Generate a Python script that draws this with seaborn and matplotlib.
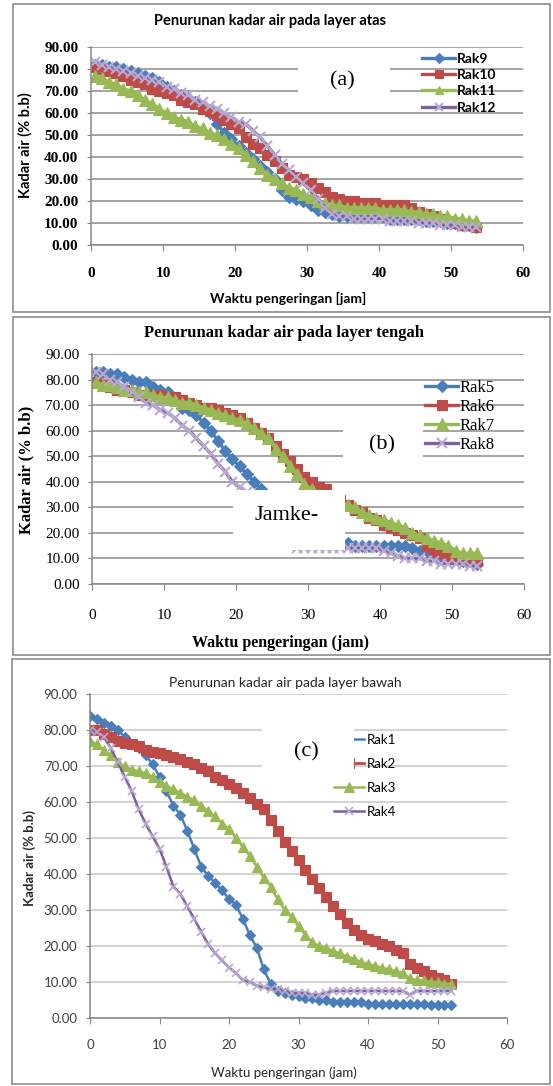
import numpy as np
import pandas as pd
import seaborn as sns
import matplotlib.pyplot as plt
from matplotlib.patches import Rectangle
from matplotlib.ticker import FormatStrFormatter, MultipleLocator

W, H = 553, 1086

# waktu pengeringan (jam)
jam_ab = np.arange(54) + 0.5
jam_c = np.arange(53)

# layer atas
rak9 = [82, 82, 81, 81, 80, 79, 78, 77, 76, 74, 72, 70, 68, 67, 65, 63, 60, 55, 51, 48,
        45, 42, 39, 36, 33, 30, 25, 22, 21, 20, 18, 16, 15, 14, 13, 13, 13, 13, 13, 13,
        13, 12, 12, 12, 12, 12, 11, 11, 11, 10, 10, 9, 9, 8]
rak10 = [81, 80, 79, 78, 77, 75, 74, 73, 71, 70, 69, 68, 66, 65, 64, 62, 61, 59, 57, 55,
         53, 49, 46, 44, 41, 38, 35, 32, 31, 30, 28, 26, 24, 22, 21, 20, 20, 19, 19, 19,
         18, 18, 18, 18, 17, 15, 14, 13, 12, 11, 10, 9, 9, 8]
rak11 = [77, 76, 74, 73, 71, 70, 68, 66, 64, 62, 60, 58, 57, 56, 54, 53, 51, 50, 48, 46,
         44, 41, 38, 35, 32, 30, 28, 26, 25, 23, 22, 20, 19, 18, 18, 17, 17, 17, 17, 17,
         16, 16, 16, 16, 15, 15, 14, 14, 13, 13, 12, 12, 11, 11]
rak12 = [83, 82, 81, 80, 79, 78, 77, 76, 75, 74, 72, 71, 69, 68, 66, 65, 63, 62, 60, 58,
         56, 55, 52, 49, 45, 41, 37, 34, 31, 28, 25, 21, 17, 14, 13, 13, 12, 12, 12, 12,
         12, 11, 11, 11, 11, 10, 10, 10, 9, 9, 9, 8, 8, 8]

# layer tengah
rak5 = [83, 83, 82, 82, 81, 80, 79, 79, 77, 76, 75, 72, 69, 68, 66, 63, 60, 56, 52, 49,
        46, 43, 40, 37, 34, 30, 27, 24, 21, 18, 17, 16, 16, 16, 16, 16, 15, 15, 15, 15,
        15, 15, 15, 15, 14, 13, 13, 12, 11, 10, 10, 9, 9, 8]
rak6 = [79, 78, 77, 76, 76, 75, 74, 74, 74, 74, 73, 73, 72, 71, 70, 69, 69, 68, 67, 66,
        65, 63, 61, 59, 57, 54, 51, 48, 45, 42, 40, 38, 37, 35, 33, 31, 29, 28, 26, 25,
        23, 22, 21, 20, 19, 18, 15, 13, 12, 11, 10, 10, 9, 9]
rak7 = [79, 78, 78, 77, 76, 76, 75, 75, 74, 73, 73, 72, 71, 71, 70, 69, 68, 67, 66, 65,
        64, 63, 61, 59, 57, 53, 50, 46, 43, 39, 37, 35, 34, 33, 32, 31, 30, 28, 27, 26,
        25, 24, 23, 22, 20, 19, 18, 17, 16, 15, 13, 12, 12, 12]
rak8 = [83, 82, 80, 79, 77, 75, 73, 71, 70, 68, 67, 65, 62, 60, 57, 54, 51, 47, 44, 40,
        38, 36, 33, 30, 27, 24, 20, 17, 14, 14, 14, 14, 14, 14, 14, 14, 14, 14, 14, 14,
        13, 12, 11, 10, 10, 10, 9, 9, 8, 8, 8, 8, 7, 7]

# layer bawah
rak1 = [84, 83, 82, 81, 80, 78, 76, 75, 73, 70.5, 67, 63, 59, 56.5, 52, 47, 42, 39.5, 37.5, 35.5,
        33, 31.5, 27.5, 23, 19.5, 13.5, 9.5, 7.5, 7, 6.5, 6, 5.5, 5.5, 5, 5, 4.5, 4.5, 4.5,
        4.5, 4.5, 4, 4, 4, 4, 4, 4, 4, 4, 4, 3.5, 3.5, 3.5, 3.5]
rak2 = [80, 80, 79, 78, 77, 76.5, 76, 75.5, 74.5, 74, 73.5, 73, 72.5, 72, 71, 70.5, 69.5, 68.5,
        67, 66, 65, 64, 62.5, 61, 59.5, 58, 55, 52, 49, 46.5, 44, 41, 38.5, 36, 33.5, 31, 29,
        26.5, 24.5, 23, 22, 21.5, 20.5, 20, 19, 18, 15, 14, 13, 12, 11, 10.5, 9.5]
rak3 = [77, 76, 74.5, 73, 71, 70, 69, 68.5, 68, 67, 65.5, 64.5, 63.5, 62.5, 61.5, 60.5, 59, 57.5,
        56, 54, 52.5, 50, 47.5, 45, 42, 39, 36.5, 33, 30, 28, 25.5, 23, 21, 20, 19.5, 18.5, 18,
        17, 16.5, 15.5, 15, 14.5, 14, 13.5, 13, 12.5, 11, 10.5, 10.5, 10, 10, 9.5, 9.5]
rak4 = [80, 79.5, 78, 75, 71, 67, 63, 58, 54, 50.5, 47, 42, 36.5, 34.5, 31, 27.5, 24, 20.5, 18,
        16, 14, 12.5, 10.5, 10, 9, 8.5, 8, 8, 7.5, 7, 7, 7, 6.5, 6.5, 7, 7.5, 7.5, 7.5, 7.5,
        7.5, 7.5, 7.5, 7.5, 7.5, 7.5, 7.5, 6.5, 7.5, 7.5, 7.5, 7.5, 7.5, 7.5]

BLUE, RED, GREEN, PURPLE, LILAC = '#4A7EBB', '#BE4B48', '#98B954', '#7D60A0', '#B9A9D0'
GRAY = '#868686'


def fx(px):
    return px / W


def fy(py):
    return 1 - py / H


def ax_rect(l, t, r, b):
    return [fx(l), fy(b), (r - l) / W, (b - t) / H]


def draw_series(ax, x, vals, name, col, mk, ms, lw, mec=None, mew=0.8):
    df = pd.DataFrame({'jam': x, 'kadar': vals})
    sns.lineplot(data=df, x='jam', y='kadar', ax=ax, estimator=None, color=col,
                 lw=lw, marker=mk, markersize=ms, markerfacecolor=col,
                 markeredgecolor=mec or col, markeredgewidth=mew, label=name)


def style_axes(ax, tfont, tsize, tweight, tcolor, grid_col, xpad, ypad):
    ax.set_xlim(0, 60)
    ax.set_ylim(0, 90)
    ax.xaxis.set_major_locator(MultipleLocator(10))
    ax.yaxis.set_major_locator(MultipleLocator(10))
    ax.yaxis.set_major_formatter(FormatStrFormatter('%.2f'))
    ax.set_xlabel('')
    ax.set_ylabel('')
    ax.yaxis.grid(True, color=grid_col, lw=1.1)
    ax.set_axisbelow(True)
    for s in ['top', 'right']:
        ax.spines[s].set_visible(False)
    for s in ['left', 'bottom']:
        ax.spines[s].set_color(GRAY)
        ax.spines[s].set_linewidth(1.1)
    ax.tick_params(axis='x', length=4, color=GRAY, pad=xpad)
    ax.tick_params(axis='y', length=3, color=GRAY, pad=ypad)
    for lab in ax.get_xticklabels() + ax.get_yticklabels():
        lab.set_fontfamily(tfont)
        lab.set_fontsize(tsize)
        lab.set_fontweight(tweight)
        lab.set_color(tcolor)
    ax.patch.set_alpha(0)


fig = plt.figure(figsize=(W / 100, H / 100), dpi=100)

# panel borders
for l, t, r, b in [(13, 4, 550, 312), (13, 317, 550, 655), (12, 659, 550, 1084)]:
    fig.add_artist(Rectangle((fx(l), fy(b)), (r - l) / W, (b - t) / H, transform=fig.transFigure,
                             fill=False, edgecolor='#8C8C8C', lw=1.2, zorder=1))

# (a) layer atas
ax1 = fig.add_axes(ax_rect(91, 47, 523, 245))
draw_series(ax1, jam_ab, rak9, 'Rak9', BLUE, 'D', 6.5, 2.4)
draw_series(ax1, jam_ab, rak10, 'Rak10', RED, 's', 7.5, 2.4)
draw_series(ax1, jam_ab, rak11, 'Rak11', GREEN, '^', 8, 2.4)
draw_series(ax1, jam_ab, rak12, 'Rak12', PURPLE, 'x', 7.5, 2.4, mec=LILAC, mew=1.5)
style_axes(ax1, 'Liberation Serif', 11, 'bold', 'black', '#8C8C8C', 12, 6)
ax1.legend(loc='upper left', bbox_to_anchor=(fx(422), fy(53)), bbox_transform=fig.transFigure,
           frameon=False, borderpad=0, borderaxespad=0, handlelength=2.4, handletextpad=0.1,
           labelspacing=0.3, markerscale=0.8,
           prop={'family': 'Lato', 'weight': 'bold', 'size': 10})
fig.text(fx(270), fy(21), 'Penurunan kadar air pada layer atas', ha='center', va='center',
         family='Lato', weight='bold', size=10.5)
fig.text(fx(288), fy(298), 'Waktu pengeringan [jam]', ha='center', va='center',
         family='Lato', weight='bold', size=10)
fig.text(fx(25), fy(145), 'Kadar air (% b.b)', ha='center', va='center', rotation=90,
         family='Lato', weight='bold', size=10.5)

# (b) layer tengah
ax2 = fig.add_axes(ax_rect(92, 354, 524, 584))
draw_series(ax2, jam_ab, rak5, 'Rak5', BLUE, 'D', 6.5, 2.4)
draw_series(ax2, jam_ab, rak6, 'Rak6', RED, 's', 7.5, 2.4)
draw_series(ax2, jam_ab, rak7, 'Rak7', GREEN, '^', 8, 2.4)
draw_series(ax2, jam_ab, rak8, 'Rak8', PURPLE, 'x', 7.5, 2.4, mec=LILAC, mew=1.5)
style_axes(ax2, 'Liberation Serif', 11, 'normal', 'black', '#8C8C8C', 14, 6)
ax2.legend(loc='upper left', bbox_to_anchor=(fx(425), fy(380)), bbox_transform=fig.transFigure,
           frameon=False, borderpad=0, borderaxespad=0, handlelength=2.0, handletextpad=0.1,
           labelspacing=0.18, prop={'family': 'Liberation Serif', 'size': 12})
fig.text(fx(284), fy(333), 'Penurunan kadar air pada layer tengah', ha='center', va='center',
         family='Liberation Serif', weight='bold', size=12)
fig.text(fx(280), fy(643), 'Waktu pengeringan (jam)', ha='center', va='center',
         family='Liberation Serif', weight='bold', size=11.5)
fig.text(fx(26), fy(470), 'Kadar air (% b.b)', ha='center', va='center', rotation=90,
         family='Liberation Serif', weight='bold', size=12)

# (c) layer bawah
ax3 = fig.add_axes(ax_rect(90, 694, 507, 1018))
draw_series(ax3, jam_c, rak1, 'Rak1', BLUE, 'D', 5.5, 1.8)
draw_series(ax3, jam_c, rak2, 'Rak2', RED, 's', 7.5, 2)
draw_series(ax3, jam_c, rak3, 'Rak3', GREEN, '^', 6.5, 1.8)
draw_series(ax3, jam_c, rak4, 'Rak4', PURPLE, 'x', 6, 1.8, mec=LILAC, mew=1.2)
style_axes(ax3, 'Lato', 9.5, 'normal', '#404040', '#C8C8C8', 11, 6)
ax3.legend(loc='upper left', bbox_to_anchor=(fx(334), fy(734)), bbox_transform=fig.transFigure,
           frameon=False, borderpad=0, borderaxespad=0, handlelength=2.3, handletextpad=0.15,
           labelspacing=0.9, prop={'family': 'Lato', 'size': 9.5})
fig.text(fx(285), fy(683), 'Penurunan kadar air pada layer bawah', ha='center', va='center',
         family='Lato', size=10, color='#262626')
fig.text(fx(284), fy(1073), 'Waktu pengeringan (jam)', ha='center', va='center',
         family='Lato', size=9.5, color='#262626')
fig.text(fx(30), fy(858), 'Kadar air (% b.b)', ha='center', va='center', rotation=90,
         family='Lato', weight='bold', size=9.5, color='#262626')

# white label boxes pasted over the charts
for (l, t, r, b), lab, (cx, cy) in [((298, 65, 390, 95), '(a)', (342, 81)),
                                     ((343, 429, 423, 465), '(b)', (382, 445)),
                                     ((233, 490, 345, 550), 'Jamke-', (287, 515)),
                                     ((262, 721, 354, 776), '(c)', (306, 752))]:
    fig.add_artist(Rectangle((fx(l), fy(b)), (r - l) / W, (b - t) / H, transform=fig.transFigure,
                             facecolor='white', edgecolor='none', zorder=5))
    fig.text(fx(cx), fy(cy), lab, ha='center', va='center', family='Liberation Serif',
             size=16, zorder=6)

fig.savefig('out.png', dpi=100)
